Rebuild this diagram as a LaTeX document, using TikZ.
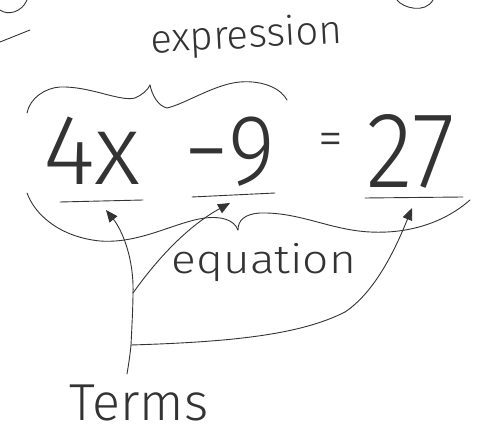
\documentclass[tikz,border=0pt]{standalone}
\usepackage{fontspec}
\setmainfont{Fira Sans}[UprightFont={* Light}]
\usetikzlibrary{arrows.meta}
\tikzset{
  pen/.style={draw=black!80, line width=0.9pt, line cap=round, line join=round},
  arr/.style={pen, -{Triangle[length=12pt,width=10pt]}},
  hand/.style={text=black!80, inner sep=0pt}
}
\begin{document}
\begin{tikzpicture}[x=1pt, y=-1pt]
\useasboundingbox (0,0) rectangle (491,435);
% partial marks at the top edge
\draw[pen] (0,10) .. controls (8,16) and (22,12) .. (27,0);
\draw[pen] (0,42) -- (30,30);
\draw[pen] (397,0) .. controls (403,8) and (425,14) .. (433,0);
% texts
\node[hand, font=\fontsize{40}{40}\selectfont, anchor=base, rotate=3] (expr) at (247,48) {expression};
\node[hand, font=\fontsize{100}{100}\selectfont, anchor=base] (t4x) at (92,185) {4x};
\node[hand, font=\fontsize{100}{100}\selectfont, anchor=base, xscale=0.9] (tm9) at (230,185) {−9};
\node[hand, font=\fontsize{50}{50}\selectfont, anchor=base] (teq) at (331,156) {=};
\node[hand, font=\fontsize{108}{108}\selectfont, anchor=base, xscale=0.9] (t27) at (411,188) {27};
\node[hand, font=\fontsize{40}{40}\selectfont, anchor=base, xscale=1.15] (eqn) at (264,274) {equation};
\node[hand, font=\fontsize{52}{52}\selectfont, anchor=base] (terms) at (139,421) {Terms};
% underlines
\coordinate (u1a) at (60,202); \coordinate (u1b) at (143,200);
\coordinate (u2a) at (192,197); \coordinate (u2b) at (275,193);
\coordinate (u3a) at (365,198); \coordinate (u3b) at (463,197);
\draw[pen] (u1a) -- (u1b);
\draw[pen] (u2a) -- (u2b);
\draw[pen] (u3a) -- (u3b);
% brace over the expression
\draw[pen] (27,113) .. controls (30,98) and (45,88) .. (60,87)
  .. controls (90,86) and (120,102) .. (135,98)
  .. controls (142,95) and (148,90) .. (150,85);
\draw[pen] (150,85) .. controls (152,95) and (158,106) .. (167,108)
  .. controls (185,104) and (215,84) .. (240,82)
  .. controls (265,80) and (282,90) .. (287,100);
% brace under the equation
\draw[pen] (27,193) .. controls (35,215) and (60,237) .. (100,241)
  .. controls (140,244) and (175,222) .. (205,218)
  .. controls (222,216) and (234,220) .. (238,230);
\draw[pen] (238,230) .. controls (238,220) and (245,214) .. (260,213)
  .. controls (300,212) and (330,230) .. (370,232)
  .. controls (410,234) and (445,222) .. (470,200);
% connectors from Terms
\coordinate (tb) at (127,374);
\coordinate (j2) at (131,345);
\coordinate (j1) at (133,293);
\coordinate (m) at (345,312);
\coordinate (t1) at (106,210);
\coordinate (t2) at (230,203);
\coordinate (t3) at (412,208);
\draw[pen] (tb) .. controls (129,362) and (130,355) .. (j2)
  .. controls (132,325) and (133,305) .. (j1);
\draw[arr] (j1) .. controls (134,258) and (122,230) .. (t1);
\draw[arr] (j1) .. controls (160,255) and (190,225) .. (t2);
\draw[pen] (j2) .. controls (230,342) and (300,335) .. (m);
\draw[arr] (m) .. controls (375,292) and (395,250) .. (t3);
\end{tikzpicture}
\end{document}
